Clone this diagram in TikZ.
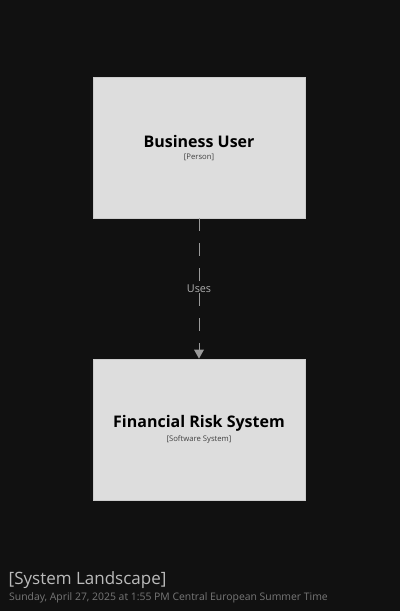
\documentclass[tikz,border=0pt]{standalone}
\usepackage{fontspec}
\setmainfont{Open Sans}
\usetikzlibrary{arrows.meta}
\definecolor{bg}{HTML}{111111}
\definecolor{boxfill}{HTML}{DDDDDD}
\definecolor{boxline}{HTML}{CCCCCC}
\definecolor{edge}{HTML}{9A9A9A}
\definecolor{lbl}{HTML}{B0B0B0}
\definecolor{ttl}{HTML}{BBBBBB}
\definecolor{sub}{HTML}{777777}
\begin{document}
\begin{tikzpicture}[x=1pt,y=-1pt,
  elem/.style={draw=boxline,fill=boxfill,line width=0.8pt,minimum width=212pt,minimum height=141pt,inner sep=0pt},
  big/.style={font=\fontsize{16}{19}\selectfont\bfseries,text=black,inner sep=0pt},
  small/.style={font=\fontsize{7.7}{9}\selectfont,text=black!75,inner sep=0pt},
  rel/.style={draw=edge,line width=0.9pt,dash pattern=on 13pt off 12pt},
]
\fill[bg] (0,0) rectangle (400,611);
\useasboundingbox (0,0) rectangle (400,611);
\node[elem] (user) at (199,147.5) {};
\node[big] (userT) at (199,141) {Business User};
\node[small] (userS) at (199,157.5) {[Person]};
\node[elem] (frs) at (199,429.5) {};
\node[big] (frsT) at (199,423) {Financial Risk System};
\node[small] (frsS) at (199,439.5) {[Software System]};
\node[font=\fontsize{10.8}{12}\selectfont,text=lbl,inner sep=0pt] (uses) at (199,289) {Uses};
\draw[rel] (user.south) -- (uses.north);
\draw[rel,dash phase=0pt] (uses.south) -- ([yshift=-9pt]frs.north);
\fill[edge] (frs.north) -- ++(-5,-9) -- ++(10,0) -- cycle;
\node[anchor=west,font=\fontsize{17}{20}\selectfont,text=ttl,inner sep=0pt] (title) at (8.5,580) {[System Landscape]};
\node[anchor=west,font=\fontsize{10.4}{12}\selectfont,text=sub,inner sep=0pt] (date) at (9,598) {Sunday, April 27, 2025 at 1:55 PM Central European Summer Time};
\end{tikzpicture}
\end{document}
